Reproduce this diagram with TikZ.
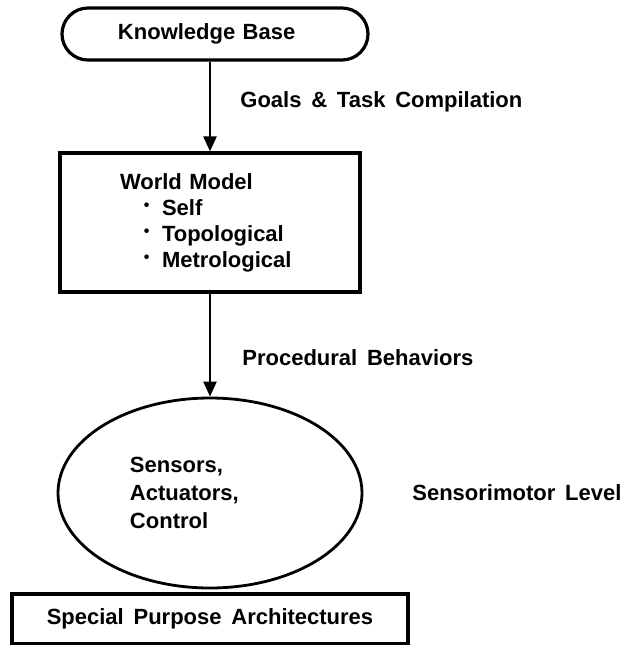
\documentclass[tikz,border=0pt]{standalone}
\usepackage{fontspec}
\setmainfont{Liberation Sans}[WordSpace=1.6]
\usetikzlibrary{arrows.meta,positioning,shapes.geometric}
\newcommand{\wmitem}[1]{\hspace*{12pt}\makebox[9pt][l]{\raisebox{2.5pt}{\footnotesize\textbullet}}#1}
\tikzset{
  box/.style={draw, line width=1.6pt, align=left, inner sep=0pt,
              font=\bfseries\fontsize{11}{13}\selectfont},
  roundbox/.style={box, rounded corners=13pt},
  ovalbox/.style={box, ellipse, line width=1.4pt, font=\bfseries\fontsize{11}{14}\selectfont},
  arrow/.style={-{Triangle[length=7.5pt,width=6.5pt]}, line width=1.2pt},
  lbl/.style={anchor=west, inner sep=0pt, font=\bfseries\fontsize{11}{13}\selectfont}
}
\begin{document}
\begin{tikzpicture}[x=0.5pt, y=-0.5pt]
\useasboundingbox (0,0) rectangle (626,645);
\node[roundbox, minimum width=153pt, minimum height=26pt, text width=97pt] (kb) at (215,34) {Knowledge Base};
\node[box, minimum width=150pt, minimum height=69.5pt, text width=90pt] (wm) at (210,222.5)
  {World Model\\\wmitem{Self}\\\wmitem{Topological}\\\wmitem{Metrological}};
\node[ovalbox, minimum width=152pt, minimum height=95pt, text width=80pt] (sm) at (210,493)
  {Sensors,\\Actuators,\\Control};
\node[box, align=center, minimum width=198pt, minimum height=25pt] (spa) at (210,619) {Special Purpose Architectures};
\node[lbl] (goals) at (240,102) {Goals \& Task Compilation};
\node[lbl] (proc) at (242,358) {Procedural Behaviors};
\node[lbl] (level) at (412,493) {Sensorimotor Level};
\draw[arrow] (kb.south -| wm.north) -- (wm.north);
\draw[arrow] (wm.south) -- (sm.north);
\end{tikzpicture}
\end{document}
